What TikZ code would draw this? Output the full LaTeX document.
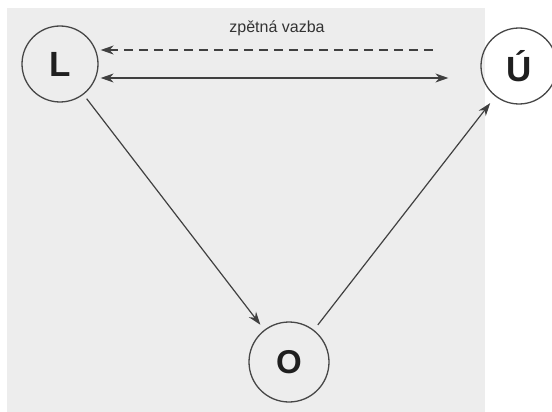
\documentclass[tikz,border=0pt]{standalone}
\usepackage{fontspec}
\setmainfont{Liberation Sans}
\usetikzlibrary{arrows.meta,calc}
\tikzset{
  state/.style={circle,draw=black!72,line width=1.3pt,fill=none,minimum size=76pt,inner sep=0pt,font=\fontsize{35}{35}\selectfont\bfseries,text=black!88},
  conn/.style={draw=black!75,line width=1.2pt,-{Stealth[length=13pt,width=9pt]}},
  both/.style={draw=black!75,line width=1.2pt,{Stealth[length=13pt,width=9pt]}-{Stealth[length=13pt,width=9pt]}},
  fb/.style={draw=black!75,line width=1.4pt,dash pattern=on 9pt off 6pt,{Stealth[length=13pt,width=9pt]}-},
  lbl/.style={font=\fontsize{16}{16}\selectfont,text=black!80,inner sep=0pt}
}
\begin{document}
\begin{tikzpicture}[x=1pt,y=-1pt]
\useasboundingbox (0,0) rectangle (552,412);
\fill[white] (0,0) rectangle (552,412);
\fill[black!7] (7,8) rectangle (485,412);
\node[state] (L) at (60,64) {L};
\node[state] (U) at (519,66) {Ú};
\node[state,minimum size=80pt,font=\fontsize{33}{33}\selectfont\bfseries] (O) at (289,362) {O};
\node[lbl] (t) at (277,28) {zpětná vazba};
\draw[fb] ($(L.east)+(2,-14)$) -- ($(U.west)+(-45,-16)$);
\draw[both] ($(L.east)+(2,14)$) -- ($(U.west)+(-32,12)$);
\draw[conn] ($(L)!43.8pt!(O)$) -- ($(O)!47pt!(L)$);
\draw[conn] ($(O)!47pt!(U)$) -- ($(U)!47pt!(O)$);
\end{tikzpicture}
\end{document}
